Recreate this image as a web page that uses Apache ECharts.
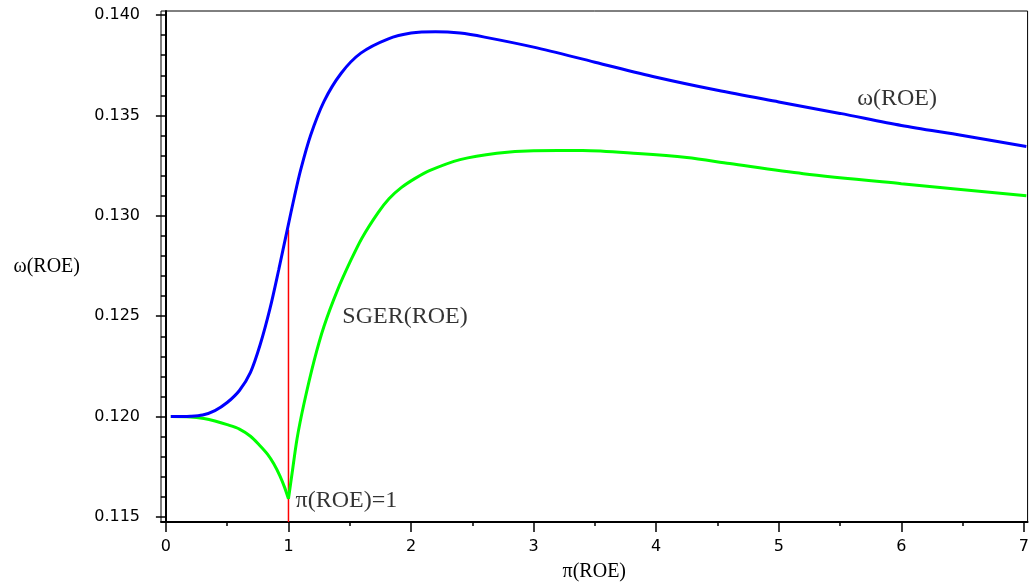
<!DOCTYPE html>
<html>
<head>
<meta charset="utf-8">
<script src="https://cdn.jsdelivr.net/npm/echarts@6/dist/echarts.min.js"></script>
<style>
  html, body { margin: 0; padding: 0; background: #fff; }
  #chart { width: 1032px; height: 587px; }
</style>
</head>
<body>
<div id="chart"></div>
<script>
// omega(ROE)
const omegaX = [0.04, 0.2, 0.3, 0.4, 0.5, 0.6, 0.69, 0.77, 0.85, 0.92, 0.99, 1.05, 1.10, 1.18, 1.29, 1.43, 1.59, 1.81, 2.0, 2.2, 2.4, 2.6, 3.0, 3.5, 4.0, 4.5, 5.0, 5.5, 6.0, 6.5, 7.02]
const omegaY = [0.1200, 0.12002, 0.12008, 0.1203, 0.1207, 0.1213, 0.1222, 0.1236, 0.1254, 0.1273, 0.1293, 0.1310, 0.1323, 0.1340, 0.1357, 0.1371, 0.1381, 0.1388, 0.1391, 0.13917, 0.1391, 0.1389, 0.1384, 0.13765, 0.1369, 0.13625, 0.13567, 0.1351, 0.1345, 0.1340, 0.13345]

// SGER(ROE), two branches meeting at the cusp pi(ROE)=1
const sgerLeftX = [0.04, 0.2, 0.31, 0.4, 0.5, 0.6, 0.69, 0.76, 0.83, 0.88, 0.93, 0.97, 1.0]
const sgerLeftY = [0.1200, 0.11998, 0.1199, 0.11978, 0.1196, 0.11938, 0.11902, 0.1186, 0.11812, 0.11765, 0.11705, 0.11645, 0.1159]
const sgerRightX = [1.0, 1.03, 1.07, 1.125, 1.21, 1.29, 1.40, 1.51, 1.6, 1.73, 1.82, 1.92, 2.03, 2.15, 2.4, 2.7, 3.0, 3.4, 3.85, 4.25, 4.6, 5.2, 6.0, 7.02]
const sgerRightY = [0.1159, 0.1172, 0.1189, 0.1206, 0.1228, 0.1245, 0.1263, 0.1278, 0.1289, 0.13015, 0.13085, 0.1314, 0.13185, 0.13225, 0.1328, 0.13312, 0.13324, 0.13325, 0.1331, 0.1329, 0.1326, 0.1321, 0.1316, 0.1310]

// vertical marker at pi(ROE)=1
const markerX = [1, 1]
const markerY = [0.11475, 0.1293]

const xTicks = [0, 1, 2, 3, 4, 5, 6, 7]
const yTicks = [0.115, 0.120, 0.125, 0.130, 0.135, 0.140]

const notes = [
  { text: 'ω(ROE)', x: 5.636, y: 0.13583 },
  { text: 'SGER(ROE)', x: 1.435, y: 0.12499 },
  { text: 'π(ROE)=1', x: 1.054, y: 0.11580 }
]

const zip = (xs, ys) => xs.map((x, i) => [x, ys[i]])

const xMinor = []
for (let v = 0; v <= 7; v += 0.5) xMinor.push(v)
const yMinor = []
for (let i = 115; i <= 140; i++) yMinor.push(i / 1000)

const serif = '"Liberation Serif", "DejaVu Serif", serif'
const sans = '"DejaVu Sans", sans-serif'
const xMin = -0.04
const xMax = 7.03
const yMin = 0.11475
const yMax = 0.1402

const curve = color => ({
  type: 'line',
  smooth: 0.3,
  showSymbol: false,
  lineStyle: { color: color, width: 3 }
})

const chart = echarts.init(document.getElementById('chart'))
const option = {
  animation: false,
  backgroundColor: '#fff',
  grid: {
    left: 161,
    right: 4,
    top: 11,
    bottom: 64,
    show: true,
    borderColor: '#000',
    borderWidth: 1
  },
  xAxis: [
    {
      type: 'value',
      min: xMin,
      max: xMax,
      position: 'bottom',
      splitLine: { show: false },
      axisLine: { lineStyle: { color: '#000', width: 2 } },
      axisTick: { show: true, customValues: xMinor, length: 4, lineStyle: { color: '#000', width: 1.5 } },
      axisLabel: { show: false },
      name: 'π(ROE)',
      nameLocation: 'middle',
      nameGap: 40,
      nameTextStyle: { fontFamily: serif, fontSize: 20, color: '#000' }
    },
    {
      type: 'value',
      min: xMin,
      max: xMax,
      position: 'bottom',
      splitLine: { show: false },
      axisLine: { show: false },
      axisTick: { show: true, customValues: xTicks, length: 10, lineStyle: { color: '#000', width: 1.5 } },
      axisLabel: {
        customValues: xTicks,
        margin: 17,
        fontFamily: sans,
        fontSize: 16,
        color: '#000'
      }
    }
  ],
  yAxis: [
    {
      type: 'value',
      min: yMin,
      max: yMax,
      position: 'left',
      splitLine: { show: false },
      axisLine: { lineStyle: { color: '#000', width: 2 } },
      axisTick: { show: true, customValues: yMinor, length: 5, lineStyle: { color: '#000', width: 1.5 } },
      axisLabel: { show: false },
      name: 'ω(ROE)',
      nameLocation: 'middle',
      nameRotate: 0,
      nameGap: 81,
      nameTextStyle: { fontFamily: serif, fontSize: 20, color: '#000', align: 'right' }
    },
    {
      type: 'value',
      min: yMin,
      max: yMax,
      position: 'left',
      splitLine: { show: false },
      axisLine: { show: false },
      axisTick: { show: true, customValues: yTicks, length: 10, lineStyle: { color: '#000', width: 1.5 } },
      axisLabel: {
        customValues: yTicks,
        margin: 21,
        fontFamily: sans,
        fontSize: 16,
        color: '#000',
        formatter: v => v.toFixed(3)
      }
    }
  ],
  series: [
    {
      type: 'line',
      data: zip(markerX, markerY),
      showSymbol: false,
      lineStyle: { color: '#ff0000', width: 1.5 },
      z: 1
    },
    Object.assign(curve('#00ff00'), { name: 'SGER(ROE)', data: zip(sgerLeftX, sgerLeftY), z: 2 }),
    Object.assign(curve('#00ff00'), { name: 'SGER(ROE)', data: zip(sgerRightX, sgerRightY), z: 2 }),
    Object.assign(curve('#0000ff'), { name: 'ω(ROE)', data: zip(omegaX, omegaY), z: 3 }),
    {
      type: 'scatter',
      data: notes.map(n => ({ value: [n.x, n.y], name: n.text })),
      symbolSize: 1,
      itemStyle: { color: 'rgba(0,0,0,0)' },
      label: {
        show: true,
        position: 'right',
        distance: 0,
        formatter: p => p.name,
        fontFamily: serif,
        fontSize: 24,
        color: '#000',
        align: 'left',
        verticalAlign: 'middle'
      },
      z: 4
    }
  ]
}
chart.setOption(option)
</script>
</body>
</html>
